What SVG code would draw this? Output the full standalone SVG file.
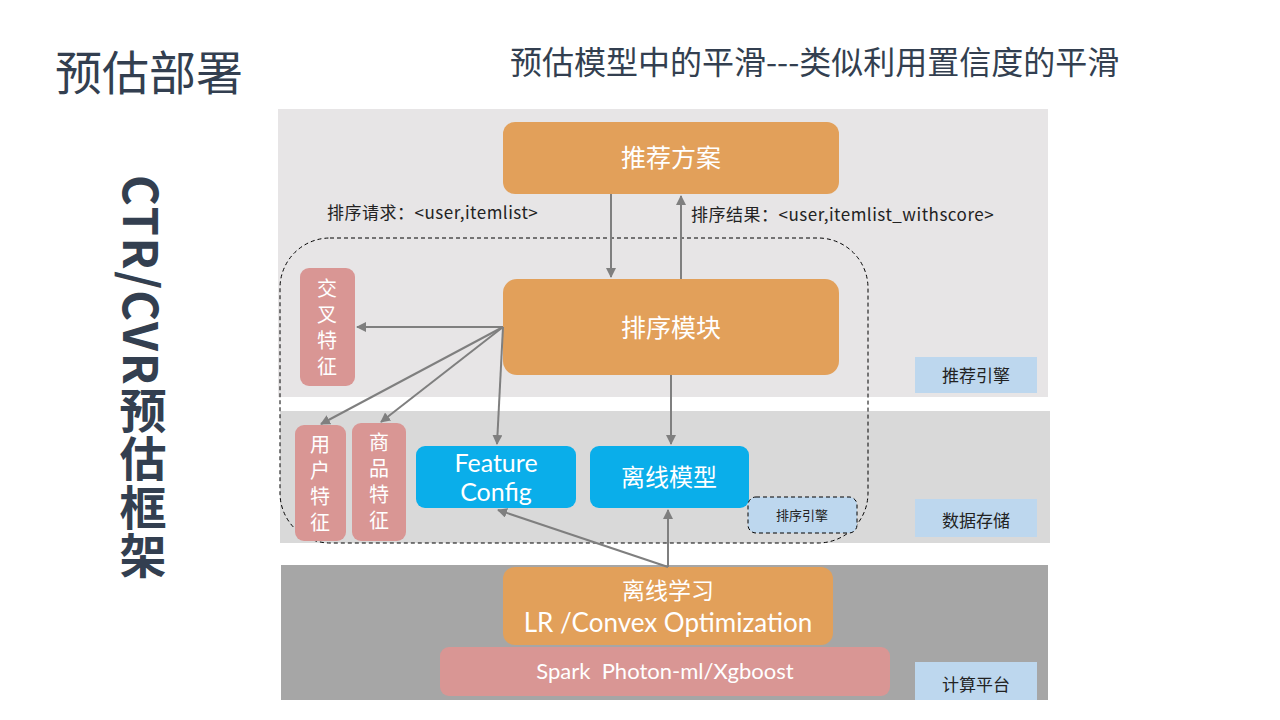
<svg xmlns="http://www.w3.org/2000/svg" width="1280" height="720" viewBox="0 0 1280 720">
<defs>
<style>
.t{font-family:"Noto Sans CJK SC","Noto Sans",sans-serif}
.l{font-family:"Lato","Noto Sans CJK SC",sans-serif}
.orange{fill:#E2A05A}
.blue{fill:#0AAEEA}
.pink{fill:#D99694}
.tag{fill:#BDD7EE}
.wt{fill:#FFFFFF;text-anchor:middle}
.dk{fill:#222222}
.vt{writing-mode:vertical-rl;font-size:20px;letter-spacing:6px}
.con{stroke:#7F7F7F;stroke-width:2;fill:none;marker-end:url(#ah)}
</style>
<marker id="ah" viewBox="0 0 10 10" refX="9" refY="5" markerWidth="5" markerHeight="5" orient="auto">
<path d="M0,0 L10,5 L0,10 z" fill="#7F7F7F"/>
</marker>
</defs>
<rect width="1280" height="720" fill="#FFFFFF"/>
<text class="t" x="55" y="90" font-size="47" fill="#333F50">预估部署</text>
<text class="t" x="510" y="74" font-size="32" fill="#333F50">预估模型中的平滑---类似利用置信度的平滑</text>
<text class="t" x="143" y="175" font-size="47" font-weight="bold" fill="#333F50" style="writing-mode:vertical-rl;letter-spacing:1.5px">CTR/CVR预估框架</text>

<g id="bands">
<rect x="278" y="109" width="770" height="288" fill="#E7E5E6"/>
<rect x="280" y="411" width="770" height="132" fill="#D9D9D9"/>
<rect x="281" y="565" width="767" height="135" fill="#A6A6A6"/>
</g>

<g id="boundary">
<rect x="280" y="238" width="588" height="305" rx="50" ry="50" fill="none" stroke="#000" stroke-width="1" stroke-dasharray="4,3"/>
</g>

<g id="n-tuijianfangan">
<rect class="orange" x="503" y="122" width="336" height="72" rx="12"/>
<text class="t wt" x="671" y="167" font-size="25">推荐方案</text>
</g>
<g id="n-paixumokuai">
<rect class="orange" x="503" y="279" width="336" height="96" rx="14"/>
<text class="t wt" x="671" y="337" font-size="25">排序模块</text>
</g>
<g id="n-jiaocha">
<rect class="pink" x="300" y="268" width="55" height="118" rx="9"/>
<text class="t vt" x="327" y="278" fill="#FFFFFF">交叉特征</text>
</g>
<g id="n-yonghu">
<rect class="pink" x="295" y="425" width="51" height="116" rx="9"/>
<text class="t vt" x="320" y="434" fill="#FFFFFF">用户特征</text>
</g>
<g id="n-shangpin">
<rect class="pink" x="352" y="423" width="54" height="118" rx="9"/>
<text class="t vt" x="379" y="432" fill="#FFFFFF">商品特征</text>
</g>
<g id="n-featureconfig">
<rect class="blue" x="416" y="446" width="160" height="62" rx="9"/>
<text class="l wt" font-size="25"><tspan x="496" y="472">Feature</tspan><tspan x="496" y="501">Config</tspan></text>
</g>
<g id="n-lixianmoxing">
<rect class="blue" x="590" y="446" width="159" height="62" rx="9"/>
<text class="t wt" x="669" y="486" font-size="24">离线模型</text>
</g>
<g id="n-paixuyinqing">
<rect class="tag" x="748" y="497" width="109" height="36" rx="8" stroke="#000" stroke-width="1" stroke-dasharray="4,3"/>
<text class="t dk" x="802" y="520" font-size="13" text-anchor="middle">排序引擎</text>
</g>
<g id="n-lixianxuexi">
<rect class="orange" x="503" y="567" width="330" height="78" rx="12"/>
<text class="t wt" x="668" y="599" font-size="23">离线学习</text>
<text class="l wt" x="668" y="632" font-size="26">LR /Convex Optimization</text>
</g>
<g id="n-spark">
<rect class="pink" x="440" y="647" width="450" height="49" rx="9"/>
<text class="l wt" x="665" y="679" font-size="22" xml:space="preserve">Spark  Photon-ml/Xgboost</text>
</g>
<g id="tag-tuijian">
<rect class="tag" x="915" y="357" width="122" height="36"/>
<text class="t dk" x="976" y="382" font-size="17" text-anchor="middle">推荐引擎</text>
</g>
<g id="tag-shuju">
<rect class="tag" x="915" y="499" width="122" height="38"/>
<text class="t dk" x="976" y="527" font-size="17" text-anchor="middle">数据存储</text>
</g>
<g id="tag-jisuan">
<rect class="tag" x="915" y="662" width="122" height="38"/>
<text class="t dk" x="976" y="691" font-size="17" text-anchor="middle">计算平台</text>
</g>

<g id="connectors">
<line class="con" x1="611" y1="194" x2="611" y2="277"/>
<line class="con" x1="681" y1="279" x2="681" y2="196"/>
<line class="con" x1="503" y1="327" x2="357" y2="327"/>
<line class="con" x1="503" y1="327" x2="321" y2="424"/>
<line class="con" x1="503" y1="327" x2="381" y2="422"/>
<line class="con" x1="503" y1="327" x2="497" y2="444"/>
<line class="con" x1="671" y1="375" x2="671" y2="444"/>
<line class="con" x1="668" y1="567" x2="668" y2="510"/>
<line class="con" x1="668" y1="567" x2="498" y2="510"/>
<text class="t dk" x="327" y="219" font-size="17" letter-spacing="0.5">排序请求：&lt;user,itemlist&gt;</text>
<text class="t dk" x="691" y="221" font-size="17" letter-spacing="0.5">排序结果：&lt;user,itemlist_withscore&gt;</text>
</g>
</svg>
